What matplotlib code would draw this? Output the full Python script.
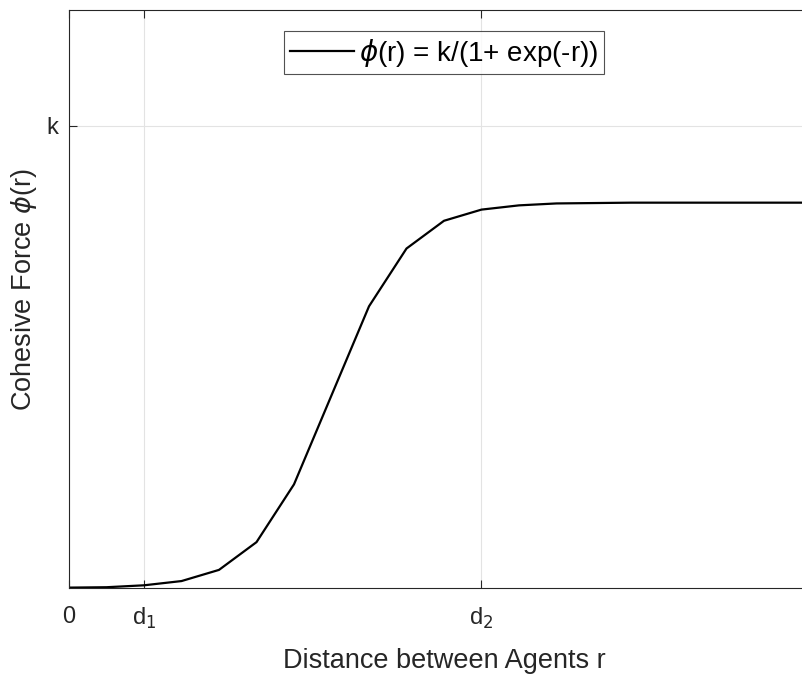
import numpy as np
import matplotlib
matplotlib.use("Agg")
import matplotlib.pyplot as plt

# --- data ---
r_vals = [0, 1, 2, 3, 4, 5, 6, 7, 8, 9, 10,
          11, 12, 13, 14, 15, 16, 17, 18, 19, 20]
phi_vals = [0.001, 0.002, 0.007, 0.018, 0.047, 0.119, 0.269, 0.5, 0.731, 0.881, 0.953,
            0.982, 0.993, 0.998, 0.999, 1.0, 1.0, 1.0, 1.0, 1.0, 1.0]
xtick_pos = [0, 2, 11]
xtick_labels = ["0", "d$_1$", "d$_2$"]
ytick_pos = [1.2]
ytick_labels = ["k"]
legend_label = r"$\phi$(r) = k/(1+ exp(-r))"

plt.rcParams["font.family"] = ["Liberation Sans", "DejaVu Sans"]
plt.rcParams["mathtext.fontset"] = "dejavusans"

W, H = 803, 675
fig = plt.figure(figsize=(W / 100, H / 100), dpi=100)
# axes runs a bit past the right edge of the picture, like the cropped original
ax = fig.add_axes([69 / W, (H - 588) / H, 750 / W, 578 / H])

ax.plot(r_vals, phi_vals, color="black", linewidth=1.6, label=legend_label)

ax.set_xlim(0, 20)
ax.set_ylim(0, 1.5)
ax.set_xticks(xtick_pos)
ax.set_xticklabels(xtick_labels)
ax.set_yticks(ytick_pos)
ax.set_yticklabels(ytick_labels)

ax.grid(True, color="#e3e3e3", linewidth=0.8)
ax.set_axisbelow(True)
for s in ax.spines.values():
    s.set_color("#262626")
    s.set_linewidth(0.8)
ax.tick_params(direction="in", length=6, width=0.8, color="#262626",
               top=True, right=True, labelsize=17, labelcolor="#262626")
ax.tick_params(axis="x", pad=13)
ax.tick_params(axis="y", pad=8)

ax.set_xlabel("Distance between Agents r", fontsize=19.5, color="#262626", labelpad=12)
ax.set_ylabel(r"Cohesive Force $\phi$(r)", fontsize=19.5, color="#262626")
# right edge of the y label sits about 36 px left of the axis
ax.yaxis.set_label_coords(-0.04, 0.516)

leg = ax.legend(loc="upper center", bbox_to_anchor=(0.5, 1 - 21 / 578),
                borderaxespad=0, fancybox=False, fontsize=20,
                handlelength=2.3, handletextpad=0.2, borderpad=0.2)
leg.get_frame().set_edgecolor("#262626")
leg.get_frame().set_linewidth(0.8)

fig.savefig("out.png", dpi=100)
